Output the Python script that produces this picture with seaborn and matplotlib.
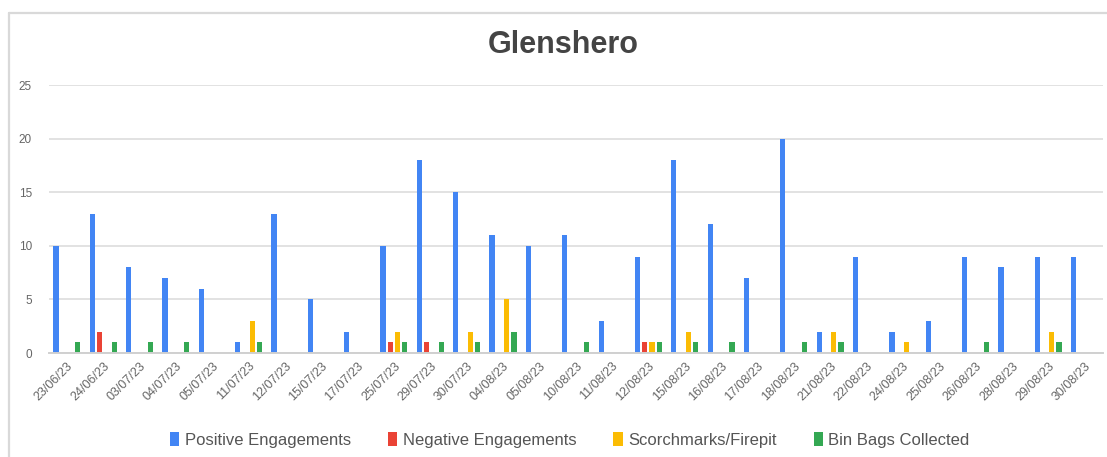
import matplotlib
matplotlib.use("Agg")
import matplotlib.pyplot as plt
from matplotlib.lines import Line2D
import pandas as pd
import seaborn as sns

dates = ["23/06/23", "24/06/23", "03/07/23", "04/07/23", "05/07/23", "11/07/23",
         "12/07/23", "15/07/23", "17/07/23", "25/07/23", "29/07/23", "30/07/23",
         "04/08/23", "05/08/23", "10/08/23", "11/08/23", "12/08/23", "15/08/23",
         "16/08/23", "17/08/23", "18/08/23", "21/08/23", "22/08/23", "24/08/23",
         "25/08/23", "26/08/23", "28/08/23", "29/08/23", "30/08/23"]
positive = [10, 13, 8, 7, 6, 1, 13, 5, 2, 10, 18, 15, 11, 10, 11, 3, 9, 18, 12, 7,
            20, 2, 9, 2, 3, 9, 8, 9, 9]
negative = [0, 2, 0, 0, 0, 0, 0, 0, 0, 1, 1, 0, 0, 0, 0, 0, 1, 0, 0, 0,
            0, 0, 0, 0, 0, 0, 0, 0, 0]
scorch = [0, 0, 0, 0, 0, 3, 0, 0, 0, 2, 0, 2, 5, 0, 0, 0, 1, 2, 0, 0,
          0, 2, 0, 1, 0, 0, 0, 2, 0]
binbags = [1, 1, 1, 1, 0, 1, 0, 0, 0, 1, 1, 1, 2, 0, 1, 0, 1, 1, 1, 0,
           1, 1, 0, 0, 0, 1, 0, 1, 0]
series_names = ["Positive Engagements", "Negative Engagements",
                "Scorchmarks/Firepit", "Bin Bags Collected"]
colors = ["#4285F4", "#EA4335", "#FBBC04", "#34A853"]

df = pd.DataFrame({"date": dates,
                   series_names[0]: positive,
                   series_names[1]: negative,
                   series_names[2]: scorch,
                   series_names[3]: binbags})
long = df.melt(id_vars="date", var_name="series", value_name="value")

sns.set_style("white")
plt.rcParams["font.family"] = ["Liberation Sans", "DejaVu Sans"]

fig = plt.figure(figsize=(11.07, 4.57), dpi=100)
ax = fig.add_axes([48.7 / 1107, 1 - 353 / 457, 1054 / 1107, 268 / 457])

sns.barplot(data=long, x="date", y="value", hue="series", hue_order=series_names,
            palette=colors, saturation=1, width=0.8, gap=0.28, linewidth=0, ax=ax)

handles, labels = ax.get_legend_handles_labels()
ax.get_legend().remove()

ax.set_xlim(-0.5, len(dates) - 0.5)
ax.set_ylim(0, 25)
ax.set_yticks([0, 5, 10, 15, 20, 25])
ax.yaxis.grid(True, color="#e2e2e2", linewidth=1.4)
ax.set_axisbelow(True)
for s in ["top", "right", "left"]:
    ax.spines[s].set_visible(False)
ax.spines["bottom"].set_color("#d0d0d0")
ax.spines["bottom"].set_linewidth(1.4)
ax.tick_params(axis="both", length=0, colors="#666666", labelsize=8.5)
ax.tick_params(axis="x", labelsize=9)
ax.tick_params(axis="y", pad=12)
ax.tick_params(axis="x", pad=5)
plt.setp(ax.get_xticklabels(), rotation=45, ha="right", rotation_mode="anchor")
ax.set_xlabel("")
ax.set_ylabel("")

fig.text(563 / 1107, 1 - 45 / 457, "Glenshero", ha="center", va="center",
         fontsize=22, fontweight="bold", color="#444444")

fig.legend(handles, labels, loc="center", bbox_to_anchor=(570 / 1107, 1 - 440 / 457),
           ncol=4, frameon=False, fontsize=12, handlelength=0.55, handleheight=0.9,
           handletextpad=0.35, columnspacing=2.2, labelcolor="#555555")

# chart frame (top and left edge)
fig.add_artist(Line2D([9 / 1107, 1], [1 - 13 / 457, 1 - 13 / 457],
                      transform=fig.transFigure, color="#d9d9d9", linewidth=1.6))
fig.add_artist(Line2D([9 / 1107, 9 / 1107], [0, 1 - 13 / 457],
                      transform=fig.transFigure, color="#d9d9d9", linewidth=1.6))

fig.savefig("out.png", dpi=100)
